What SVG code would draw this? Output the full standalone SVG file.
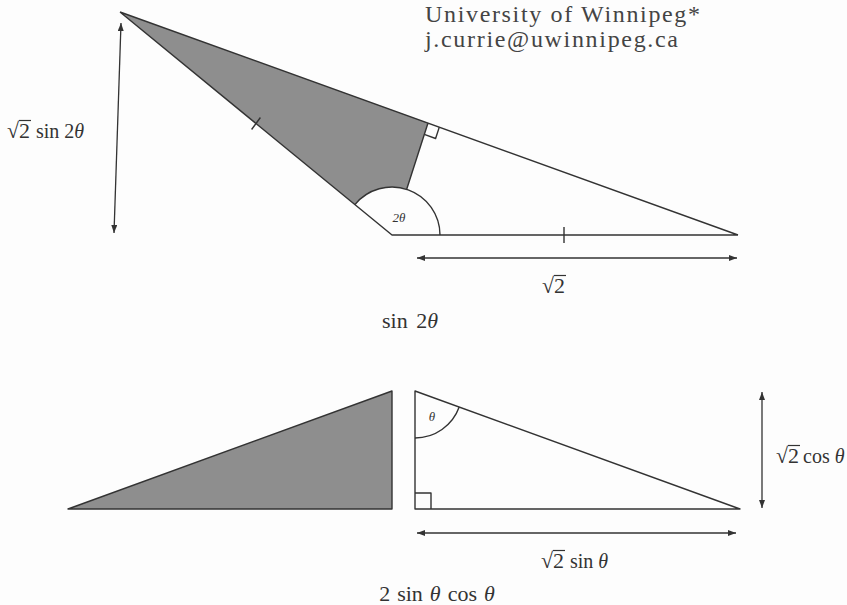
<svg xmlns="http://www.w3.org/2000/svg" width="847" height="605" viewBox="0 0 847 605">
<style>
.ln{fill:none;stroke:#333;stroke-width:1.4;stroke-linejoin:round}
.sh{fill:#8e8e8e;stroke:none}
.ar{fill:none;stroke:#333;stroke-width:1.3}
.t{font-family:"Liberation Serif","Times New Roman",serif;fill:#333;font-size:20px}
.r{font-family:"Liberation Serif","Times New Roman",serif;fill:#333;font-size:22px}
.cap{font-family:"Liberation Serif","Times New Roman",serif;fill:#333;font-size:22px}
.hd{font-family:"Liberation Serif","Times New Roman",serif;fill:#444;font-size:24px}
.it{font-style:italic}
.sm{font-family:"Liberation Serif","Times New Roman",serif;fill:#333;font-size:13px;font-style:italic}
.vin{stroke:#333;stroke-width:1.2}
</style>
<defs>
<marker id="ah" markerUnits="userSpaceOnUse" markerWidth="9" markerHeight="7" refX="8" refY="3" orient="auto-start-reverse">
<path d="M0,0 L8,3 L0,6 z" fill="#333"/>
</marker>
</defs>
<rect width="847" height="605" fill="#fdfdfd"/>

<g id="header">
<text class="hd" x="425" y="22" textLength="275" lengthAdjust="spacing">University of Winnipeg*</text>
<text class="hd" x="425" y="47" textLength="253" lengthAdjust="spacing">j.currie@uwinnipeg.ca</text>
</g>

<g id="top-figure">
<path class="sh" d="M120,12 L428,123 L406.7,189.3 A48,48 0 0,0 354.9,204.6 Z"/>
<path class="ln" d="M120,12 L738,235 M120,12 L392,235 L738,235 M428,123 L406.7,189.3"/>
<path class="ln" d="M354.9,204.6 A48,48 0 0,1 440,235"/>
<path class="ln" d="M439.3,127.1 L435.6,138.5 L424.3,134.4"/>
<path class="ln" d="M251.6,129.5 L260.4,117.5 M564,227 L564,243"/>
<text class="sm" x="399" y="222" text-anchor="middle">2θ</text>
</g>

<g id="bottom-figure">
<path class="sh" d="M68,509 L392,391 L392,509 Z"/>
<path class="ln" d="M68,509 L392,391 L392,509 Z"/>
<path class="ln" d="M415,391 L415,509 L740,509 Z"/>
<path class="ln" d="M415,493 H431 V509"/>
<path class="ln" d="M415,438 A47,47 0 0,0 459.2,407"/>
<text class="sm" x="432" y="421" text-anchor="middle">θ</text>
</g>

<g id="connectors">
<line class="ar" x1="121" y1="23" x2="114" y2="233" marker-start="url(#ah)" marker-end="url(#ah)"/>
<line class="ar" x1="417" y1="258" x2="737" y2="258" marker-start="url(#ah)" marker-end="url(#ah)"/>
<line class="ar" x1="762" y1="392" x2="762" y2="508" marker-start="url(#ah)" marker-end="url(#ah)"/>
<line class="ar" x1="417" y1="533" x2="736" y2="533" marker-start="url(#ah)" marker-end="url(#ah)"/>
</g>

<g id="labels">
<text class="r" x="7" y="138">√2</text>
<line class="vin" x1="19" y1="120.5" x2="31" y2="120.5"/>
<text class="t" x="36" y="138">sin 2<tspan class="it">θ</tspan></text>

<text class="r" x="542" y="293">√2</text>
<line class="vin" x1="554" y1="275.5" x2="566" y2="275.5"/>

<text class="cap" x="410" y="328" text-anchor="middle" word-spacing="3">sin 2<tspan class="it">θ</tspan></text>

<text class="r" x="776" y="463">√2</text>
<line class="vin" x1="788" y1="445.5" x2="800" y2="445.5"/>
<text class="t" x="803" y="463">cos <tspan class="it">θ</tspan></text>

<text class="r" x="541" y="568">√2</text>
<line class="vin" x1="553" y1="550.5" x2="565" y2="550.5"/>
<text class="t" x="570" y="568">sin <tspan class="it">θ</tspan></text>

<text class="cap" x="437" y="601" text-anchor="middle" word-spacing="1.5">2 sin <tspan class="it">θ</tspan> cos <tspan class="it">θ</tspan></text>
</g>
</svg>
